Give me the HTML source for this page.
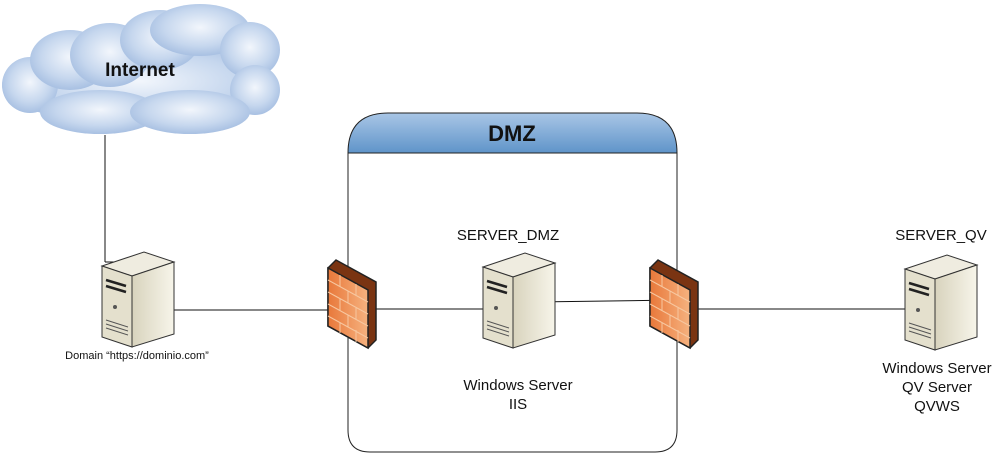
<!DOCTYPE html>
<html><head><meta charset="utf-8"><style>
html,body{margin:0;padding:0;background:#fff;}
svg{display:block;font-family:"Liberation Sans",Arial,sans-serif;}
</style></head><body>
<svg width="997" height="455" viewBox="0 0 997 455" xmlns="http://www.w3.org/2000/svg">
<defs>
<radialGradient id="cl" cx="50%" cy="45%" r="65%">
<stop offset="0" stop-color="#f2f6fc"/><stop offset="0.55" stop-color="#c6d7ee"/><stop offset="1" stop-color="#98b4dc"/>
</radialGradient>
<linearGradient id="hd" x1="0" y1="0" x2="0" y2="1">
<stop offset="0" stop-color="#a9c6e6"/><stop offset="1" stop-color="#5f94c9"/>
</linearGradient>
<linearGradient id="fw" x1="0" y1="0" x2="1" y2="0">
<stop offset="0" stop-color="#e8783a"/><stop offset="1" stop-color="#f6b27f"/>
</linearGradient>
<linearGradient id="sv" x1="0" y1="0" x2="1" y2="0">
<stop offset="0" stop-color="#d8d3bd"/><stop offset="1" stop-color="#f7f5ea"/>
</linearGradient>
<g id="server">
<polygon points="0,14 42,0 72,10 30,24" fill="#efece0" stroke="#333" stroke-width="1"/>
<polygon points="0,14 30,24 30,95 0,85" fill="#e4e0cd" stroke="#333" stroke-width="1"/>
<polygon points="30,24 72,10 72,82 30,95" fill="url(#sv)" stroke="#333" stroke-width="1"/>
<path d="M4,28 L24,34 M4,34 L24,40" stroke="#222" stroke-width="2.5"/>
<circle cx="13" cy="55" r="2" fill="#555"/>
<path d="M4,68 L26,75 M4,72 L26,79 M4,76 L26,83" stroke="#555" stroke-width="1"/>
</g>
<g id="fwall">
<polygon points="0,8 8,0 48,22 48,80 40,88 0,66" fill="#7a3412" stroke="#222" stroke-width="1.5"/>
<polygon points="0,8 40,30 40,88 0,66" fill="url(#fw)" stroke="#222" stroke-width="1.5"/>
<path d="M0,20 L40,42 M0,32 L40,54 M0,44 L40,66 M0,56 L40,78 M12,15 L12,27 M28,24 L28,36 M12,39 L12,51 M28,48 L28,60 M12,63 L12,73 M28,70 L28,82 M20,31 L20,43 M20,55 L20,67" stroke="#f7c7a0" stroke-width="1"/>
</g>
</defs>

<!-- cloud -->
<g fill="url(#cl)">
<ellipse cx="140" cy="85" rx="138" ry="40"/>
<ellipse cx="30" cy="85" rx="28" ry="28"/>
<ellipse cx="70" cy="60" rx="40" ry="30"/>
<ellipse cx="110" cy="55" rx="40" ry="32"/>
<ellipse cx="160" cy="40" rx="40" ry="30"/>
<ellipse cx="200" cy="30" rx="50" ry="26"/>
<ellipse cx="250" cy="50" rx="30" ry="28"/>
<ellipse cx="255" cy="90" rx="25" ry="25"/>
<ellipse cx="100" cy="112" rx="60" ry="22"/>
<ellipse cx="190" cy="112" rx="60" ry="22"/>
</g>
<text x="140" y="76" font-size="19" font-weight="bold" text-anchor="middle" fill="#111">Internet</text>

<!-- lines -->
<line x1="105" y1="135" x2="105" y2="262" stroke="#111"/>
<line x1="105" y1="262" x2="118" y2="262" stroke="#111"/>
<line x1="170" y1="310" x2="332" y2="310" stroke="#111"/>
<line x1="372" y1="309" x2="488" y2="309" stroke="#111"/>
<line x1="535" y1="302" x2="676" y2="300" stroke="#111"/>
<line x1="696" y1="309" x2="912" y2="309" stroke="#111"/>

<!-- DMZ box -->
<path d="M348,153 L348,430 Q348,452 370,452 L655,452 Q677,452 677,430 L677,153 Z" fill="none" stroke="#222"/>
<path d="M348,153 Q348,113 388,113 L637,113 Q677,113 677,153 Z" fill="url(#hd)" stroke="#222"/>
<text x="512" y="141" font-size="22" font-weight="bold" text-anchor="middle" fill="#111">DMZ</text>

<use href="#fwall" x="328" y="260"/>
<use href="#fwall" x="650" y="260"/>
<use href="#server" x="102" y="252"/>
<use href="#server" x="483" y="253"/>
<use href="#server" x="905" y="255"/>

<g font-size="15" fill="#111" text-anchor="middle">
<text x="508" y="240">SERVER_DMZ</text>
<text x="941" y="240">SERVER_QV</text>
<text x="518" y="390">Windows Server</text>
<text x="518" y="409">IIS</text>
<text x="937" y="373">Windows Server</text>
<text x="937" y="392">QV Server</text>
<text x="937" y="411">QVWS</text>
<text x="137" y="359" font-size="11">Domain “https://dominio.com”</text>
</g>
</svg>
</body></html>
